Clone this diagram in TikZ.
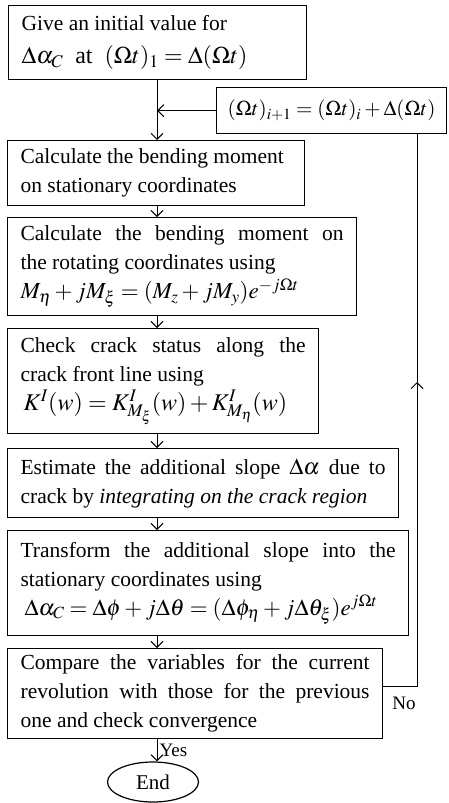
\documentclass[tikz,border=0pt]{standalone}
\usepackage{mathptmx}
\usepackage{fontspec}
\setmainfont{Liberation Serif}
\usetikzlibrary{arrows.meta,shapes.geometric}
\newcommand{\fml}[1]{{\fontsize{23}{29}\selectfont$#1$}}
\tikzset{
  box/.style={draw, line width=1.2pt, anchor=north west, inner xsep=13pt, inner ysep=0pt,
    align=justify, font=\fontsize{21.5}{29}\selectfont},
  arr/.style={-{Straight Barb[length=6pt,width=12pt]}, line width=1pt},
  lbl/.style={font=\fontsize{19}{22}\selectfont},
}
\begin{document}
\begin{tikzpicture}[x=1pt,y=-1pt]
\useasboundingbox (0,0) rectangle (448,803);
\coordinate (mx) at (157,0);
\coordinate (lx) at (417,0);
\node[box,minimum width=298pt,minimum height=74pt,text width=272pt] (b1) at (8,5)
  {Give an initial value for\\[4pt] {\fontsize{24}{29}\selectfont$\,\Delta\alpha_C\enspace\mbox{at}\enspace(\Omega t)_1=\Delta(\Omega t)$}};
\node[box,minimum width=230pt,minimum height=46pt,text width=212pt,inner xsep=9pt,align=center] (loop) at (216,87)
  {{\fontsize{21}{24}\selectfont$(\Omega t)_{i+1}=(\Omega t)_i+\Delta(\Omega t)$}};
\node[box,minimum width=297pt,minimum height=65pt,text width=271pt] (b2) at (7,140)
  {Calculate the bending moment\\ on stationary coordinates};
\node[box,minimum width=349pt,minimum height=98pt,text width=323pt] (b3) at (7,217)
  {Calculate the bending moment on\linebreak the rotating coordinates using\\
   \fml{M_\eta+jM_\xi=(M_z+jM_y)e^{-j\Omega t}}};
\node[box,minimum width=311pt,minimum height=105pt,text width=285pt] (b4) at (7,328)
  {Check crack status along the\linebreak crack front line using\\
   \hspace*{3pt}{\fontsize{24}{29}\selectfont$K^I(w)=K^I_{M_\xi}(w)+K^I_{M_\eta}(w)$}};
\node[box,minimum width=391pt,minimum height=69pt,text width=365pt] (b5) at (7,448)
  {Estimate the additional slope \fml{\Delta\alpha} due to\linebreak crack by \textit{integrating on the crack region}};
\node[box,minimum width=401pt,minimum height=105pt,text width=375pt] (b6) at (7,530)
  {Transform the additional slope into the\linebreak stationary coordinates using\\
   \hspace*{4pt}\fml{\Delta\alpha_C=\Delta\phi+j\Delta\theta=(\Delta\phi_\eta+j\Delta\theta_\xi)e^{j\Omega t}}};
\node[box,minimum width=375pt,minimum height=90pt,text width=349pt] (b7) at (7,648)
  {Compare the variables for the current\linebreak revolution with those for the previous\linebreak one and check convergence};
\node[draw,ellipse,line width=1.2pt,minimum width=91pt,minimum height=40pt,inner sep=0pt,
  font=\fontsize{21}{24}\selectfont] (end) at (153,782) {End};
\draw[arr] (b1.south -| mx) -- (b2.north -| mx);
\draw[arr] (loop.west) -- (loop.west -| mx);
\draw[arr] (b2.south -| mx) -- (b3.north -| mx);
\draw[arr] (b3.south -| mx) -- (b4.north -| mx);
\draw[arr] (b4.south -| mx) -- (b5.north -| mx);
\draw[arr] (b5.south -| mx) -- (b6.north -| mx);
\draw[arr] (b6.south -| mx) -- (b7.north -| mx);
\draw[arr] (b7.south -| mx) -- (end.north -| mx) node[midway,right,lbl,inner xsep=2pt] {Yes};
\coordinate (c7) at (417,686);
\coordinate (up) at (417,382);
\draw[arr] (b7.east |- c7) -- (c7) -- (up);
\draw[line width=1pt] (up) -- (loop.south -| lx);
\node[lbl] (no) at (404,703) {No};
\end{tikzpicture}
\end{document}
